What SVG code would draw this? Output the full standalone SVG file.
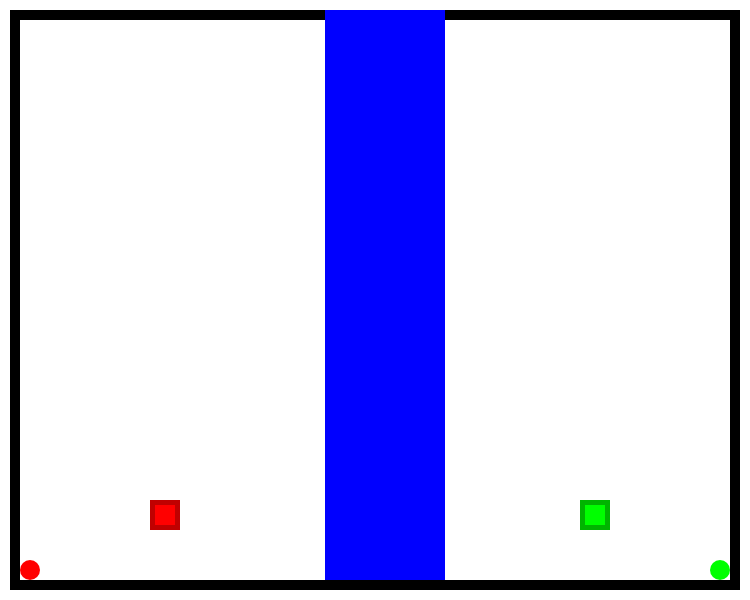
<svg xmlns="http://www.w3.org/2000/svg" width="750" height="600" viewBox="0 0 750 600">
<rect x="0" y="0" width="750" height="600" fill="#ffffff"/>
<rect x="15" y="15" width="720" height="570" fill="#ffffff" stroke="#000000" stroke-width="10"/>
<rect x="325" y="10" width="120" height="570" fill="#0000ff"/>
<rect x="152.5" y="502.5" width="25" height="25" fill="#ff0000" stroke="#c00000" stroke-width="5"/>
<rect x="582.5" y="502.5" width="25" height="25" fill="#00ff00" stroke="#00b400" stroke-width="5"/>
<circle cx="30" cy="570" r="10" fill="#ff0000"/>
<circle cx="720" cy="570" r="10" fill="#00ff00"/>
</svg>
